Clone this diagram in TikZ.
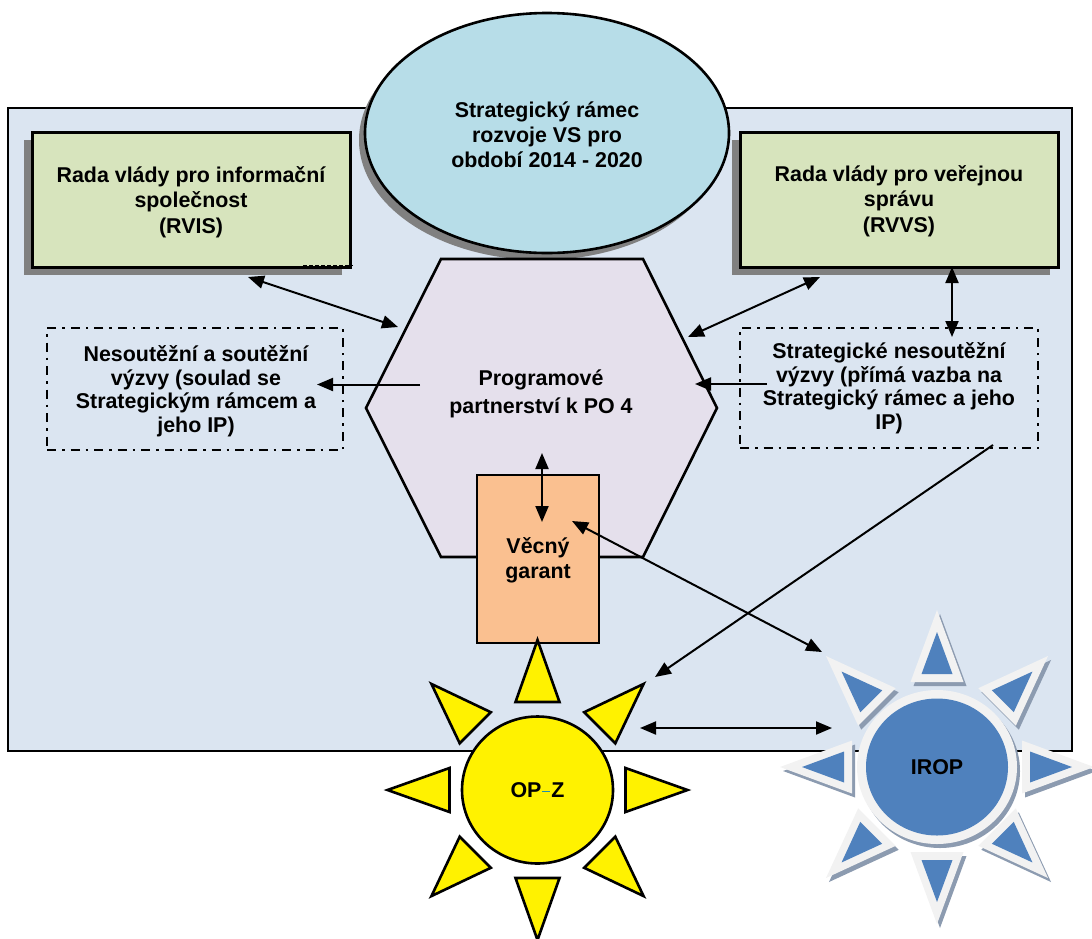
\documentclass[tikz,border=0pt]{standalone}
\usepackage{fontspec}
\setmainfont{Liberation Sans}
\usetikzlibrary{arrows.meta,calc,shapes.geometric,shadows}
\definecolor{bgc}{HTML}{DBE5F1}
\definecolor{greenc}{HTML}{D7E4BD}
\definecolor{ellc}{HTML}{B7DDE8}
\definecolor{hexc}{HTML}{E5E0EC}
\definecolor{garc}{HTML}{FAC090}
\definecolor{shadc}{HTML}{808080}
\definecolor{iropc}{HTML}{4F81BD}
\definecolor{rimc}{HTML}{F2F2F2}
\definecolor{irshad}{HTML}{8C9BB0}
\definecolor{dashc}{HTML}{1F8FB0}
\tikzset{
 lbl/.style={font=\bfseries\fontsize{21.4pt}{25.5pt}\selectfont, align=center, text=black},
 arr/.style={line width=2pt, -{Triangle[length=16pt,width=13pt]}},
 darr/.style={line width=2pt, {Triangle[length=16pt,width=13pt]}-{Triangle[length=16pt,width=13pt]}},
 gbox/.style={draw=black, line width=3pt, fill=greenc, inner sep=0pt,
   drop shadow={shadow xshift=-8pt, shadow yshift=-8pt, fill=shadc, opacity=1}},
 dashbox/.style={draw=black, line width=2.6pt, dash pattern=on 9pt off 6pt on 2.5pt off 6pt, inner sep=0pt},
 sunray/.style={draw=black, line width=2.6pt, fill=yellow, line join=miter},
}
\begin{document}
\begin{tikzpicture}[x=1pt,y=-1pt]
\useasboundingbox (0,0) rectangle (1092,938);
% background panel
\node[draw=black, line width=2pt, fill=bgc, minimum width=1064pt, minimum height=643pt, inner sep=0pt] (panel) at (540,429.5) {};
% green boxes
\node[gbox, minimum width=318pt, minimum height=135pt] (rvis) at (191,199.5) {};
\node[lbl] (rvist) at (191,202) {Rada vlády pro informační\\společnost\\(RVIS)};
\node[gbox, minimum width=318pt, minimum height=135pt] (rvvs) at (899,199.5) {};
\node[lbl] (rvvst) at (899,201) {Rada vlády pro veřejnou\\správu\\(RVVS)};
\draw[line width=1.3pt, dash pattern=on 4pt off 2pt] (303,265.5) -- (353,265.5);
% ellipse
\node[ellipse, draw=black, line width=2.6pt, fill=ellc, minimum width=364pt, minimum height=240pt, inner sep=0pt,
  drop shadow={shadow xshift=-6pt, shadow yshift=-7pt, fill=shadc, opacity=1}] (srv) at (547,133) {};
\node[lbl, font=\bfseries\fontsize{21.4pt}{25pt}\selectfont] (srvt) at (547,135) {Strategický rámec\\rozvoje VS pro\\období 2014 - 2020};
% hexagon
\coordinate (h1) at (441,259);
\coordinate (h2) at (643,259);
\coordinate (h3) at (717,408);
\coordinate (h4) at (643,557);
\coordinate (h5) at (441,557);
\coordinate (h6) at (366,408);
\draw[line width=2.6pt, fill=hexc, line join=miter] (h1) -- (h2) -- (h3) -- (h4) -- (h5) -- (h6) -- cycle;
\node[lbl, font=\bfseries\fontsize{21.4pt}{28pt}\selectfont] (hex) at (541,394) {Programové\\partnerství k PO 4};
% dashed boxes
\node[dashbox, minimum width=296pt, minimum height=122pt] (left) at (195,389) {};
\node[lbl, font=\bfseries\fontsize{21.4pt}{23.5pt}\selectfont] (leftt) at (196,391) {Nesoutěžní a soutěžní\\výzvy (soulad se\\Strategickým rámcem a\\jeho IP)};
\node[dashbox, minimum width=298pt, minimum height=120pt] (right) at (889,388) {};
\node[lbl, font=\bfseries\fontsize{21.4pt}{23.5pt}\selectfont] (rightt) at (889,388) {Strategické nesoutěžní\\výzvy (přímá vazba na\\Strategický rámec a jeho\\IP)};
% garant
\node[draw=black, line width=2.8pt, fill=garc, minimum width=122pt, minimum height=168pt, inner sep=0pt] (garant) at (538,559) {};
\node[lbl] (garantt) at (538,560.5) {Věcný\\garant};
% OP-Z sun
\coordinate (sunc) at (537.5,790);
\foreach \a in {0,45,...,315}
  \draw[sunray, shift={(sunc)}, rotate=\a] (88,-22) -- (150,0) -- (88,22) -- cycle;
\node[ellipse, draw=black, line width=2.6pt, fill=yellow, minimum width=151pt, minimum height=147pt, inner sep=0pt] (opz) at (sunc) {};
\node[lbl] at (opz) {OP\hspace{1pt}{\color{dashc}\rule[5pt]{8pt}{1.2pt}}\hspace{1pt}Z};
% IROP star
\coordinate (irc) at (937,767);
\foreach \a in {0,45,...,315}
  \fill[irshad, shift={($(irc)+(3,4)$)}, rotate=\a] (85,-26.5) -- (157,0) -- (85,26.5) -- cycle;
\fill[irshad] ($(irc)+(3,4)$) ellipse [x radius=80, y radius=77];
\foreach \a in {0,45,...,315}
  \fill[rimc, shift={(irc)}, rotate=\a] (85,-26.5) -- (157,0) -- (85,26.5) -- cycle;
\fill[rimc] (irc) ellipse [x radius=80, y radius=77];
\foreach \a in {0,45,...,315}
  \fill[iropc, shift={(irc)}, rotate=\a] (93,-15.5) -- (135,0) -- (93,15.5) -- cycle;
\node[ellipse, fill=iropc, minimum width=142pt, minimum height=137pt, inner sep=0pt] (irop) at (irc) {};
\node[lbl] at (irop) {IROP};
% connector endpoints
\coordinate (rvisA) at (248,277);
\coordinate (hexL) at (398,327);
\coordinate (rvvsA) at (820,277);
\coordinate (hexR) at (688,337);
\coordinate (rvvsB) at (952,267);
\coordinate (rightT) at (952,337);
\coordinate (hexW) at (420,384.5);
\coordinate (leftE) at (317,384.5);
\coordinate (rightW) at (767,384);
\coordinate (hexE) at (695,384);
\coordinate (hexB) at (542,453);
\coordinate (garT) at (542,522);
\coordinate (garR) at (572,521);
\coordinate (iropA) at (822,652);
\coordinate (rightB) at (993,445);
\coordinate (opzA) at (655,677);
\coordinate (opzE) at (640,728);
\coordinate (iropW) at (832,728);
\draw[darr] (rvisA) -- (hexL);
\draw[darr] (rvvsA) -- (hexR);
\draw[darr] (rvvsB) -- (rightT);
\draw[arr] (hexW) -- (leftE);
\draw[arr] (rightW) -- (hexE);
\draw[darr] (hexB) -- (garT);
\draw[darr] (garR) -- (iropA);
\draw[arr] (rightB) -- (opzA);
\draw[darr] (opzE) -- (iropW);
\end{tikzpicture}
\end{document}
